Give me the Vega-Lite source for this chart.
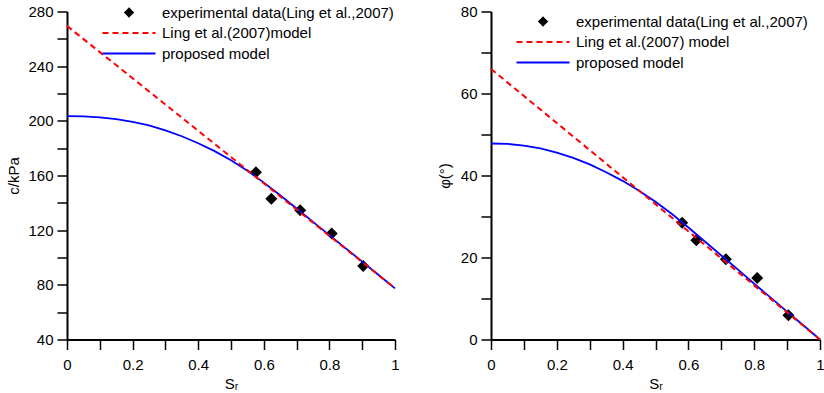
{
  "$schema": "https://vega.github.io/schema/vega-lite/v6.json",
  "background": "white",
  "padding": {"left": 6, "top": 4.5, "right": 0, "bottom": 0},
  "bounds": "flush",
  "spacing": 96,
  "config": {
    "font": "Liberation Sans",
    "view": {"stroke": null},
    "axis": {
      "grid": false,
      "ticks": true,
      "zindex": 2,
      "domainColor": "black",
      "domainWidth": 2,
      "tickColor": "#000000",
      "tickOpacity": 1,
      "tickWidth": 1.5,
      "tickSize": 10,
      "labelColor": "black",
      "labelFont": "Liberation Sans",
      "labelFontSize": 15,
      "labelFlush": false,
      "labelOverlap": false,
      "titleColor": "black",
      "titleFont": "Liberation Sans",
      "titleFontSize": 15,
      "titleFontWeight": "normal"
    },
    "legend": {
      "labelFont": "Liberation Sans",
      "labelFontSize": 15,
      "labelColor": "black",
      "labelLimit": 400,
      "padding": 0,
      "offset": 0,
      "symbolSize": 100,
      "symbolStrokeWidth": 2,
      "labelOffset": 25.5,
      "rowPadding": 4.5
    }
  },
  "datasets": {
    "cObs": [
      {"Sr": 0.576, "c": 162.3, "series": "experimental data(Ling et al.,2007)"},
      {"Sr": 0.623, "c": 143.0, "series": "experimental data(Ling et al.,2007)"},
      {"Sr": 0.711, "c": 134.5, "series": "experimental data(Ling et al.,2007)"},
      {"Sr": 0.807, "c": 117.6, "series": "experimental data(Ling et al.,2007)"},
      {"Sr": 0.903, "c": 93.8, "series": "experimental data(Ling et al.,2007)"}
    ],
    "cLing": [
      {"Sr": 0, "c": 269.5, "series": "Ling et al.(2007)model"},
      {"Sr": 1, "c": 77.4, "series": "Ling et al.(2007)model"}
    ],
    "cProp": [
      {"Sr": 0.0, "c": 203.5, "series": "proposed model"},
      {"Sr": 0.05, "c": 203.2, "series": "proposed model"},
      {"Sr": 0.1, "c": 202.5, "series": "proposed model"},
      {"Sr": 0.15, "c": 201.2, "series": "proposed model"},
      {"Sr": 0.2, "c": 199.3, "series": "proposed model"},
      {"Sr": 0.25, "c": 196.6, "series": "proposed model"},
      {"Sr": 0.3, "c": 193.0, "series": "proposed model"},
      {"Sr": 0.35, "c": 188.7, "series": "proposed model"},
      {"Sr": 0.4, "c": 183.6, "series": "proposed model"},
      {"Sr": 0.45, "c": 177.8, "series": "proposed model"},
      {"Sr": 0.5, "c": 171.2, "series": "proposed model"},
      {"Sr": 0.55, "c": 163.5, "series": "proposed model"},
      {"Sr": 0.6, "c": 154.8, "series": "proposed model"},
      {"Sr": 0.65, "c": 145.5, "series": "proposed model"},
      {"Sr": 0.7, "c": 135.8, "series": "proposed model"},
      {"Sr": 0.75, "c": 126.1, "series": "proposed model"},
      {"Sr": 0.8, "c": 116.4, "series": "proposed model"},
      {"Sr": 0.85, "c": 106.7, "series": "proposed model"},
      {"Sr": 0.9, "c": 97.0, "series": "proposed model"},
      {"Sr": 0.95, "c": 87.2, "series": "proposed model"},
      {"Sr": 1.0, "c": 77.4, "series": "proposed model"}
    ],
    "phiObs": [
      {"Sr": 0.581, "phi": 28.5, "series": "experimental data(Ling et al.,2007)"},
      {"Sr": 0.624, "phi": 24.2, "series": "experimental data(Ling et al.,2007)"},
      {"Sr": 0.714, "phi": 19.6, "series": "experimental data(Ling et al.,2007)"},
      {"Sr": 0.809, "phi": 15.0, "series": "experimental data(Ling et al.,2007)"},
      {"Sr": 0.904, "phi": 5.9, "series": "experimental data(Ling et al.,2007)"}
    ],
    "phiLing": [
      {"Sr": 0, "phi": 66.0, "series": "Ling et al.(2007) model"},
      {"Sr": 1, "phi": 0.0, "series": "Ling et al.(2007) model"}
    ],
    "phiProp": [
      {"Sr": 0.0, "phi": 47.8, "series": "proposed model"},
      {"Sr": 0.05, "phi": 47.7, "series": "proposed model"},
      {"Sr": 0.1, "phi": 47.3, "series": "proposed model"},
      {"Sr": 0.15, "phi": 46.6, "series": "proposed model"},
      {"Sr": 0.2, "phi": 45.6, "series": "proposed model"},
      {"Sr": 0.25, "phi": 44.3, "series": "proposed model"},
      {"Sr": 0.3, "phi": 42.7, "series": "proposed model"},
      {"Sr": 0.35, "phi": 40.8, "series": "proposed model"},
      {"Sr": 0.4, "phi": 38.7, "series": "proposed model"},
      {"Sr": 0.45, "phi": 36.3, "series": "proposed model"},
      {"Sr": 0.5, "phi": 33.6, "series": "proposed model"},
      {"Sr": 0.55, "phi": 30.6, "series": "proposed model"},
      {"Sr": 0.6, "phi": 27.3, "series": "proposed model"},
      {"Sr": 0.65, "phi": 23.9, "series": "proposed model"},
      {"Sr": 0.7, "phi": 20.5, "series": "proposed model"},
      {"Sr": 0.75, "phi": 17.1, "series": "proposed model"},
      {"Sr": 0.8, "phi": 13.6, "series": "proposed model"},
      {"Sr": 0.85, "phi": 10.2, "series": "proposed model"},
      {"Sr": 0.9, "phi": 6.8, "series": "proposed model"},
      {"Sr": 0.95, "phi": 3.4, "series": "proposed model"},
      {"Sr": 1.0, "phi": 0.0, "series": "proposed model"}
    ]
  },
  "hconcat": [
    {
      "width": 328,
      "height": 328,
      "encoding": {
        "x": {
          "field": "Sr", "type": "quantitative",
          "scale": {"domain": [0, 1], "nice": false},
          "axis": {
            "title": "Sᵣ",
            "ticks": true,
            "values": [0, 0.1, 0.2, 0.3, 0.4, 0.5, 0.6, 0.7, 0.8, 0.9, 1],
            "format": "~g",
            "labelExpr": "round(datum.value * 10) % 2 === 0 ? datum.label : ''",
            "labelPadding": 8,
            "titlePadding": 4,
            "encode": {"ticks": {"update": {
              "y2": {"signal": "round(datum.value * 10) % 2 === 0 ? 10 : 5"},
              "stroke": {"value": "#000000"},
              "strokeWidth": {"value": 1.5},
              "strokeOpacity": {"value": 1},
              "opacity": {"value": 1}
            }}}
          }
        },
        "y": {
          "field": "c", "type": "quantitative",
          "scale": {"domain": [40, 280], "nice": false, "zero": false},
          "axis": {
            "title": "c/kPa",
            "ticks": true,
            "values": [40, 60, 80, 100, 120, 140, 160, 180, 200, 220, 240, 260, 280],
            "labelExpr": "datum.value % 40 === 0 ? datum.label : ''",
            "labelPadding": 4,
            "titlePadding": 6,
            "encode": {"ticks": {"update": {
              "x2": {"signal": "datum.value % 40 === 0 ? -10 : -5"},
              "stroke": {"value": "#000000"},
              "strokeWidth": {"value": 1.5},
              "strokeOpacity": {"value": 1},
              "opacity": {"value": 1}
            }}}
          }
        },
        "color": {
          "field": "series", "type": "nominal",
          "scale": {
            "domain": ["experimental data(Ling et al.,2007)", "Ling et al.(2007)model", "proposed model"],
            "range": ["black", "red", "blue"]
          },
          "legend": {
            "title": null,
            "orient": "none",
            "legendX": 54.5,
            "legendY": -6.5,
            "encode": {
              "symbols": {
                "update": {
                  "shape": {"signal": "datum.index === 0 ? 'M-0.75,0L0,-0.75L0.75,0L0,0.75Z' : 'M-5.3,0L5.3,0'"},
                  "size": {"value": 100},
                  "fill": {"signal": "datum.index === 0 ? 'black' : 'transparent'"},
                  "stroke": {"signal": "datum.index === 1 ? 'red' : datum.index === 2 ? 'blue' : 'black'"},
                  "strokeWidth": {"value": 2},
                  "strokeDash": {"signal": "datum.index === 1 ? [6, 4] : [1, 0]"},
                  "opacity": {"value": 1}
                }
              }
            }
          }
        }
      },
      "layer": [
        {"data": {"name": "cObs"}, "mark": {"type": "point", "shape": "diamond", "filled": true, "size": 144, "opacity": 1}},
        {"data": {"name": "cProp"}, "mark": {"type": "line", "strokeWidth": 1.8}},
        {"data": {"name": "cLing"}, "mark": {"type": "line", "strokeWidth": 2, "strokeDash": [6, 4]}}
      ]
    },
    {
      "width": 329,
      "height": 328,
      "encoding": {
        "x": {
          "field": "Sr", "type": "quantitative",
          "scale": {"domain": [0, 1], "nice": false},
          "axis": {
            "title": "Sᵣ",
            "ticks": true,
            "values": [0, 0.1, 0.2, 0.3, 0.4, 0.5, 0.6, 0.7, 0.8, 0.9, 1],
            "format": "~g",
            "labelExpr": "round(datum.value * 10) % 2 === 0 ? datum.label : ''",
            "labelPadding": 8,
            "titlePadding": 4,
            "encode": {"ticks": {"update": {
              "y2": {"signal": "round(datum.value * 10) % 2 === 0 ? 10 : 5"},
              "stroke": {"value": "#000000"},
              "strokeWidth": {"value": 1.5},
              "strokeOpacity": {"value": 1},
              "opacity": {"value": 1}
            }}}
          }
        },
        "y": {
          "field": "phi", "type": "quantitative",
          "scale": {"domain": [0, 80], "nice": false},
          "axis": {
            "title": "φ(°)",
            "ticks": true,
            "values": [0, 10, 20, 30, 40, 50, 60, 70, 80],
            "labelExpr": "datum.value % 20 === 0 ? datum.label : ''",
            "labelPadding": 4,
            "titlePadding": 8,
            "encode": {"ticks": {"update": {
              "x2": {"signal": "datum.value % 20 === 0 ? -10 : -5"},
              "stroke": {"value": "#000000"},
              "strokeWidth": {"value": 1.5},
              "strokeOpacity": {"value": 1},
              "opacity": {"value": 1}
            }}}
          }
        },
        "color": {
          "field": "series", "type": "nominal",
          "scale": {
            "domain": ["experimental data(Ling et al.,2007)", "Ling et al.(2007) model", "proposed model"],
            "range": ["black", "red", "blue"]
          },
          "legend": {
            "title": null,
            "orient": "none",
            "legendX": 44.5,
            "legendY": 2.5,
            "encode": {
              "symbols": {
                "update": {
                  "shape": {"signal": "datum.index === 0 ? 'M-0.75,0L0,-0.75L0.75,0L0,0.75Z' : 'M-5.3,0L5.3,0'"},
                  "size": {"value": 100},
                  "fill": {"signal": "datum.index === 0 ? 'black' : 'transparent'"},
                  "stroke": {"signal": "datum.index === 1 ? 'red' : datum.index === 2 ? 'blue' : 'black'"},
                  "strokeWidth": {"value": 2},
                  "strokeDash": {"signal": "datum.index === 1 ? [6, 4] : [1, 0]"},
                  "opacity": {"value": 1}
                }
              }
            }
          }
        }
      },
      "layer": [
        {"data": {"name": "phiObs"}, "mark": {"type": "point", "shape": "diamond", "filled": true, "size": 144, "opacity": 1}},
        {"data": {"name": "phiProp"}, "mark": {"type": "line", "strokeWidth": 1.8}},
        {"data": {"name": "phiLing"}, "mark": {"type": "line", "strokeWidth": 2, "strokeDash": [6, 4]}}
      ]
    }
  ],
  "resolve": {"scale": {"color": "independent"}, "legend": {"color": "independent"}}
}
